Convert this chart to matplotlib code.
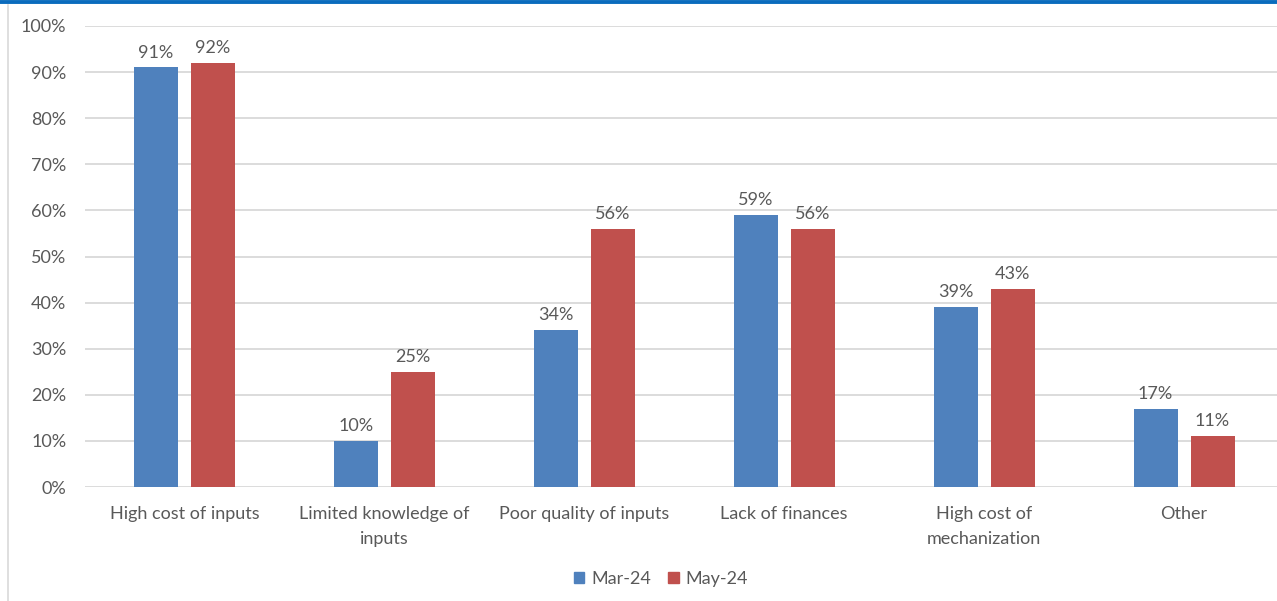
import matplotlib.pyplot as plt
import numpy as np
from matplotlib.patches import Patch
from matplotlib.lines import Line2D

categories = ["High cost of inputs", "Limited knowledge of\ninputs", "Poor quality of inputs",
              "Lack of finances", "High cost of\nmechanization", "Other"]
mar_24 = [91, 10, 34, 59, 39, 17]
may_24 = [92, 25, 56, 56, 43, 11]
series_names = ["Mar-24", "May-24"]
y_ticks = [0, 10, 20, 30, 40, 50, 60, 70, 80, 90, 100]

BLUE = "#4f81bd"
RED = "#c0504d"
TEXT = "#595959"
GRID = "#d9d9d9"

plt.rcParams['font.family'] = ['Lato', 'DejaVu Sans']
FS = 13.0

W, H = 1277, 601
fig = plt.figure(figsize=(W / 100, H / 100), dpi=100)

# plot area in pixel terms, running slightly past the right edge
left_px, right_px, top_px, bottom_px = 84.5, 1284, 26, 487
ax = fig.add_axes([left_px / W, 1 - bottom_px / H, (right_px - left_px) / W, (bottom_px - top_px) / H])

x = np.arange(len(categories))
bw = 0.22
off = 0.1425
b1 = ax.bar(x - off, mar_24, bw, color=BLUE, zorder=3)
b2 = ax.bar(x + off, may_24, bw, color=RED, zorder=3)

for bars, vals in ((b1, mar_24), (b2, may_24)):
    for rect, v in zip(bars, vals):
        ax.annotate(f"{v}%", (rect.get_x() + rect.get_width() / 2, v),
                    xytext=(0, 5), textcoords="offset points", ha="center", va="bottom",
                    fontsize=FS, color=TEXT)

ax.set_xlim(-0.5, len(categories) - 0.5)
ax.set_ylim(0, 100)
ax.set_yticks(y_ticks)
ax.set_yticklabels([f"{t}%" for t in y_ticks])
ax.set_xticks(x)
ax.set_xticklabels(categories, linespacing=1.65)
ax.tick_params(axis="both", length=0, labelsize=FS, labelcolor=TEXT)
ax.tick_params(axis="y", pad=13)
ax.tick_params(axis="x", pad=14)
ax.yaxis.grid(True, color=GRID, linewidth=1.3, zorder=0)
ax.set_axisbelow(True)
for s in ax.spines.values():
    s.set_visible(False)

# frame accents: blue band at top, thin grey rule at left
fig.add_artist(Line2D([0, 1], [1 - 1.5 / H, 1 - 1.5 / H], transform=fig.transFigure,
                      color="#0a6bbd", linewidth=2.8))
fig.add_artist(Line2D([8 / W, 8 / W], [0, 1 - 5 / H], transform=fig.transFigure,
                      color=GRID, linewidth=1.2))

handles = [Patch(color=BLUE), Patch(color=RED)]
fig.legend(handles, series_names, loc="center", bbox_to_anchor=(661 / W, 1 - 579 / H),
           ncol=2, frameon=False, fontsize=FS, labelcolor=TEXT,
           handlelength=0.6, handleheight=0.6, handletextpad=0.4, columnspacing=0.9)

fig.savefig("out.png", dpi=100)
